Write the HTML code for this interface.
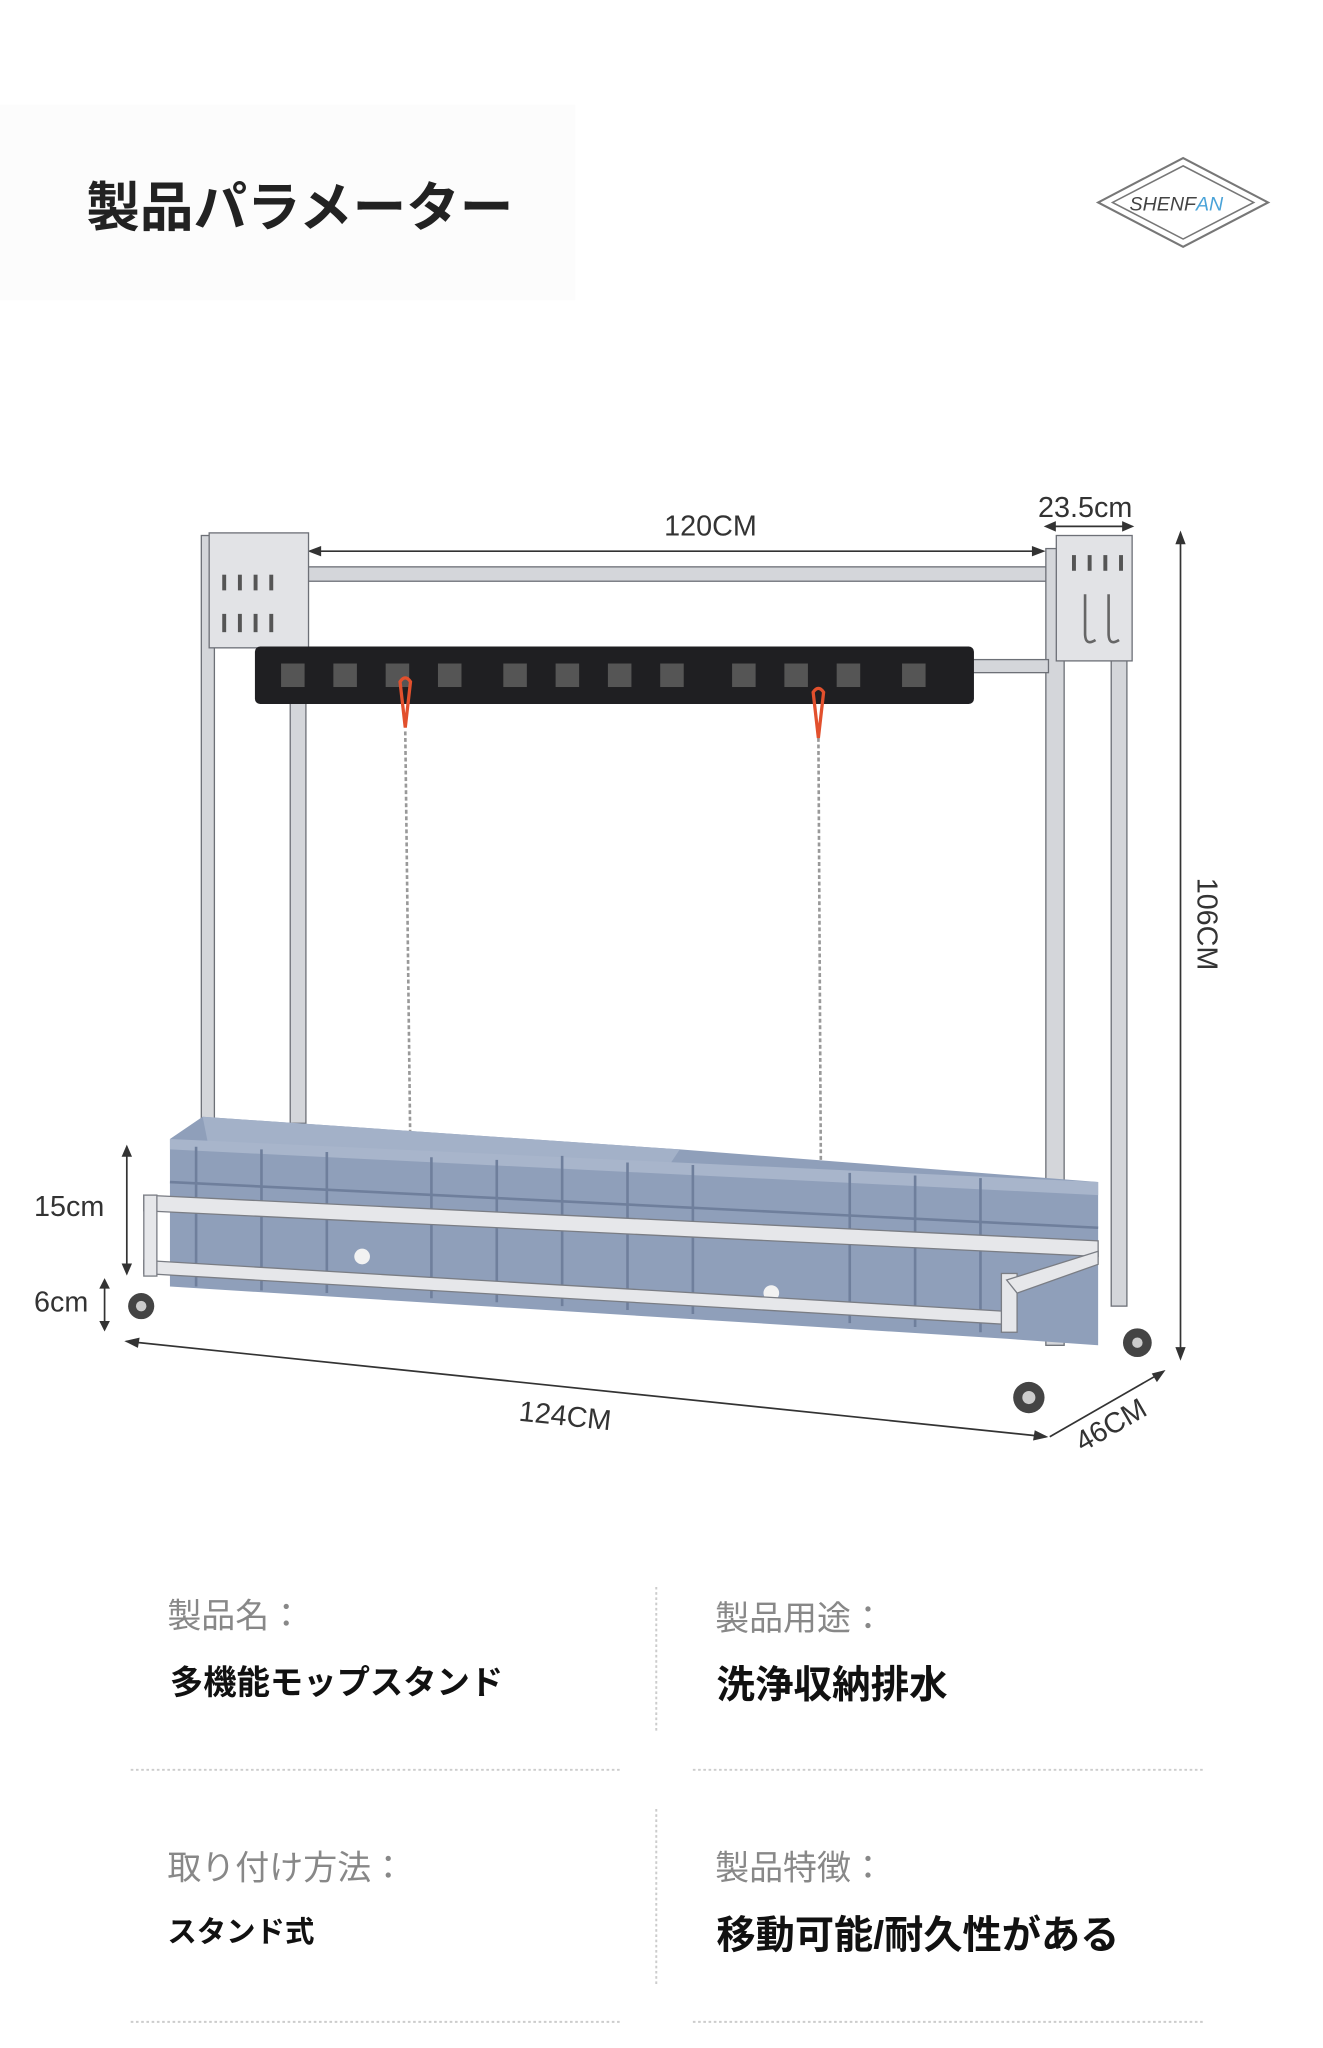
<!DOCTYPE html>
<html><head><meta charset="utf-8"><style>
html,body{margin:0;padding:0;background:#fff;}
svg{display:block;}
text{font-family:"Liberation Sans","Noto Sans CJK JP",sans-serif;}
</style></head><body>
<svg width="1323" height="2048" viewBox="0 0 1012 1568" preserveAspectRatio="none" xmlns="http://www.w3.org/2000/svg">
<rect x="0" y="0" width="1024" height="1585.2" fill="#fff"/>
<rect x="0" y="80" width="440" height="150" fill="#fcfcfc"/>
<text x="66" y="173" font-size="41" font-weight="bold" fill="#222">製品パラメーター</text>
<!-- logo -->
<g fill="none" stroke="#777" stroke-width="1.6">
<path d="M905 121 L970 155 L905 189 L840 155 Z"/>
<path d="M905 127 L959 155 L905 183 L851 155 Z" stroke-width="1.2"/>
</g>
<text x="864" y="161" font-size="15" fill="#444" font-style="italic">SHENF<tspan fill="#4aa3d8">AN</tspan></text>

<!-- dimension lines -->
<g stroke="#333" stroke-width="1.3" fill="#333">
<line x1="237" y1="422" x2="798" y2="422"/>
<path d="M237 422 l8 -3 v6z M798 422 l-8 -3 v6z"/>
<line x1="800" y1="403" x2="866" y2="403"/>
<path d="M800 403 l7 -3 v6z M866 403 l-7 -3 v6z"/>
<line x1="903" y1="408" x2="903" y2="1040"/>
<path d="M903 408 l-3 8 h6z M903 1040 l-3 -8 h6z"/>
<line x1="97" y1="878" x2="97" y2="975"/>
<path d="M97 878 l-3 7 h6z M97 975 l-3 -7 h6z"/>
<line x1="80" y1="980" x2="80" y2="1018"/>
<path d="M80 980 l-3 6 h6z M80 1018 l-3 -6 h6z"/>
<line x1="97" y1="1027" x2="800" y2="1100"/>
<path d="M97 1027 l9 -2 l-1 6z M800 1100 l-9 2 l1 -6z"/>
<line x1="803" y1="1100" x2="890" y2="1050"/>
<path d="M890 1050 l-5 7 l-3 -5z"/>
</g>
<g fill="#333" font-size="22">
<text x="508" y="410">120CM</text>
<text x="794" y="396">23.5cm</text>
<text x="26" y="931">15cm</text>
<text x="26" y="1004">6cm</text>
<text x="397" y="1092" transform="rotate(6 438 1083)">124CM</text>
<text x="0" y="0" transform="translate(828 1112) rotate(-30)">46CM</text>
<text x="0" y="0" transform="translate(916 672) rotate(90)">106CM</text>
</g>

<!-- frame -->
<g fill="#d4d6da" stroke="#6d7077" stroke-width="1">
<rect x="154" y="410" width="10" height="565"/>
<rect x="222" y="420" width="12" height="440"/>
<rect x="800" y="420" width="14" height="610"/>
<rect x="850" y="420" width="12" height="580"/>
<rect x="234" y="434" width="566" height="11"/>
<rect x="740" y="505" width="62" height="10"/>
<rect x="160" y="408" width="76" height="88" fill="#e2e3e6"/>
<rect x="808" y="410" width="58" height="96" fill="#e2e3e6"/>
</g>
<g fill="#555">
<rect x="170" y="440" width="3" height="12"/><rect x="182" y="440" width="3" height="12"/><rect x="194" y="440" width="3" height="12"/><rect x="206" y="440" width="3" height="12"/>
<rect x="170" y="470" width="3" height="14"/><rect x="182" y="470" width="3" height="14"/><rect x="194" y="470" width="3" height="14"/><rect x="206" y="470" width="3" height="14"/>
<rect x="820" y="425" width="3" height="12"/><rect x="832" y="425" width="3" height="12"/><rect x="844" y="425" width="3" height="12"/><rect x="856" y="425" width="3" height="12"/>
</g>
<path d="M830 455 v30 q0 10 8 5 M848 455 v30 q0 10 8 5" stroke="#666" stroke-width="2" fill="none"/>
<!-- mop holder -->
<rect x="195" y="495" width="550" height="44" rx="4" fill="#1f1f22"/>
<g fill="#555">
<rect x="215" y="508" width="18" height="18"/><rect x="255" y="508" width="18" height="18"/><rect x="295" y="508" width="18" height="18"/><rect x="335" y="508" width="18" height="18"/>
<rect x="385" y="508" width="18" height="18"/><rect x="425" y="508" width="18" height="18"/><rect x="465" y="508" width="18" height="18"/><rect x="505" y="508" width="18" height="18"/>
<rect x="560" y="508" width="18" height="18"/><rect x="600" y="508" width="18" height="18"/><rect x="640" y="508" width="18" height="18"/><rect x="690" y="508" width="18" height="18"/>
</g>
<!-- chains -->
<g stroke="#999" stroke-width="2" stroke-dasharray="3 2" fill="none">
<line x1="310" y1="560" x2="314" y2="890"/>
<line x1="626" y1="560" x2="628" y2="910"/>
<path d="M280 885 q-25 40 0 75"/><path d="M605 912 q-25 40 -8 80"/>
</g>
<path d="M306 522 l4 35 l4 -35 q-4 -6 -8 0z M622 530 l4 35 l4 -35 q-4 -6 -8 0z" fill="none" stroke="#e2502d" stroke-width="2.5"/>
<!-- boxes -->
<polygon points="130,872 155,855 520,880 840,905 840,1030 770,1025 130,985" fill="#8f9fba"/>
<polygon points="155,855 520,880 510,895 160,880" fill="#a3b1c8"/>
<polygon points="130,872 840,905 840,915 130,880" fill="#a8b5cb"/>
<g stroke="#6f7f9c" stroke-width="2">
<line x1="130" y1="905" x2="840" y2="940"/>
<line x1="430" y1="885" x2="430" y2="1000"/>
<line x1="150" y1="878" x2="150" y2="985"/><line x1="200" y1="880" x2="200" y2="988"/><line x1="250" y1="882" x2="250" y2="990"/><line x1="330" y1="886" x2="330" y2="994"/><line x1="380" y1="888" x2="380" y2="997"/>
<line x1="480" y1="890" x2="480" y2="1003"/><line x1="530" y1="892" x2="530" y2="1006"/><line x1="650" y1="898" x2="650" y2="1013"/><line x1="700" y1="900" x2="700" y2="1016"/><line x1="750" y1="902" x2="750" y2="1020"/>
</g>
<circle cx="277" cy="962" r="6" fill="#f2f2f2"/><circle cx="590" cy="990" r="6" fill="#f2f2f2"/>
<!-- rails -->
<g fill="#e6e7ea" stroke="#7a7d84" stroke-width="1">
<polygon points="110,915 840,950 840,962 110,927"/>
<polygon points="110,965 770,1004 770,1014 110,975"/>
<rect x="110" y="915" width="10" height="62"/>
<rect x="766" y="975" width="12" height="45"/>
<polygon points="770,980 840,958 840,968 778,990"/>
</g>
<!-- wheels -->
<g fill="#444">
<circle cx="108" cy="1000" r="10"/><circle cx="787" cy="1070" r="12"/><circle cx="870" cy="1028" r="11"/>
</g>
<g fill="#ccc"><circle cx="108" cy="1000" r="4"/><circle cx="787" cy="1070" r="5"/><circle cx="870" cy="1028" r="4"/></g>

<!-- info -->
<g stroke="#ccc" stroke-width="1.5" stroke-dasharray="2 2">
<line x1="100" y1="1355" x2="475" y2="1355"/><line x1="530" y1="1355" x2="920" y2="1355"/>
<line x1="100" y1="1548" x2="475" y2="1548"/><line x1="530" y1="1548" x2="920" y2="1548"/>
<line x1="502" y1="1215" x2="502" y2="1325"/><line x1="502" y1="1385" x2="502" y2="1520"/>
</g>
<g fill="#888" font-size="26">
<text x="128" y="1246">製品名：</text>
<text x="547" y="1248">製品用途：</text>
<text x="128" y="1439">取り付け方法：</text>
<text x="547" y="1439">製品特徴：</text>
</g>
<g fill="#111" font-weight="bold">
<text x="130" y="1297" font-size="25.5">多機能モップスタンド</text>
<text x="548" y="1300" font-size="29.5">洗浄収納排水</text>
<text x="128" y="1487" font-size="22.5">スタンド式</text>
<text x="548" y="1492" font-size="30">移動可能/耐久性がある</text>
</g>
</svg>
</body></html>
